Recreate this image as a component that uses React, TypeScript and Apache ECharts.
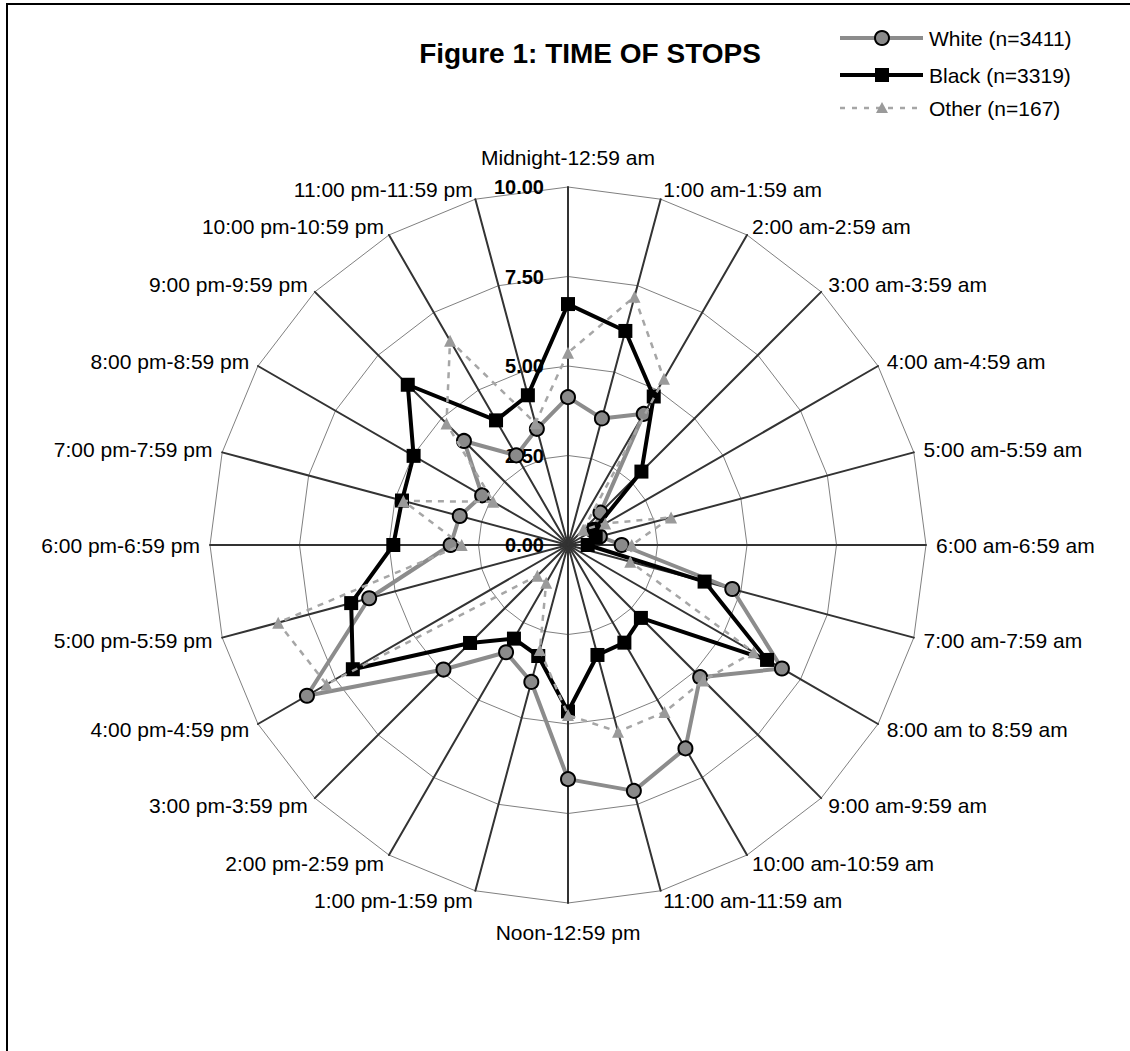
import React, { useEffect, useRef } from "react";
import * as echarts from "echarts";

const FONT = "'Liberation Sans', Arial, Helvetica, sans-serif";

const chartTitle = "Figure 1: TIME OF STOPS";

const hourLabels: string[] = [
  "Midnight-12:59 am",
  "1:00 am-1:59 am",
  "2:00 am-2:59 am",
  "3:00 am-3:59 am",
  "4:00 am-4:59 am",
  "5:00 am-5:59 am",
  "6:00 am-6:59 am",
  "7:00 am-7:59 am",
  "8:00 am to 8:59 am",
  "9:00 am-9:59 am",
  "10:00 am-10:59 am",
  "11:00 am-11:59 am",
  "Noon-12:59 pm",
  "1:00 pm-1:59 pm",
  "2:00 pm-2:59 pm",
  "3:00 pm-3:59 pm",
  "4:00 pm-4:59 pm",
  "5:00 pm-5:59 pm",
  "6:00 pm-6:59 pm",
  "7:00 pm-7:59 pm",
  "8:00 pm-8:59 pm",
  "9:00 pm-9:59 pm",
  "10:00 pm-10:59 pm",
  "11:00 pm-11:59 pm",
];

const seriesNames: string[] = ["White (n=3411)", "Black (n=3319)", "Other (n=167)"];

const whiteValues: number[] = [
  4.13, 3.66, 4.23, 1.28, 0.85, 0.92, 1.5, 4.75, 6.9, 5.22, 6.56, 7.11,
  6.54, 3.96, 3.46, 4.92, 8.42, 5.75, 3.28, 3.13, 2.77, 4.11, 2.89, 3.36,
];

const blackValues: number[] = [
  6.73, 6.19, 4.79, 2.9, 0.85, 0.8, 0.55, 3.95, 6.42, 2.88, 3.15, 3.18,
  4.65, 3.21, 3.02, 3.87, 6.94, 6.27, 4.88, 4.8, 4.98, 6.33, 4.02, 4.33,
];

const otherValues: number[] = [
  5.37, 7.18, 5.36, 0.6, 1.2, 2.98, 1.78, 1.8, 5.99, 5.35, 5.39, 5.4,
  4.75, 3.04, 1.22, 1.21, 7.79, 8.38, 2.97, 4.76, 2.41, 4.8, 6.59, 3.52,
];

const axisMin = 0;
const axisMax = 10;
const axisSplits = 4; // ticks 0.00, 2.50, 5.00, 7.50, 10.00

// ECharts radar lays indicators out counter-clockwise; reorder so that they run clockwise.
function clockwise<T>(arr: T[]): T[] {
  const n = arr.length;
  return arr.map((_, i) => arr[i === 0 ? 0 : n - i]);
}

const App: React.FC = () => {
  const ref = useRef<HTMLDivElement>(null);

  useEffect(() => {
    if (!ref.current) return;
    const chart = echarts.init(ref.current, undefined, { renderer: "svg" });

    const topName = hourLabels[0];
    const bottomName = hourLabels[12];

    const indicators = clockwise(hourLabels).map((name, i) =>
      i === 0
        ? {
            name,
            min: axisMin,
            max: axisMax,
            axisLabel: {
              show: true,
              margin: 24,
              color: "#000",
              fontWeight: "bold",
              fontSize: 20,
              fontFamily: FONT,
              formatter: (v: any) => Number(v).toFixed(2),
            },
          }
        : { name, min: axisMin, max: axisMax }
    );

    const legendY = [38, 75, 108];
    const lx0 = 840;
    const lx1 = 923;
    const mx = 882;
    const tx = 929;

    const option: any = {
      animation: false,
      backgroundColor: "#fff",
      textStyle: { fontFamily: FONT },
      graphic: [
        {
          type: "rect",
          shape: { x: 7, y: 4, width: 1200, height: 1200 },
          style: { fill: "none", stroke: "#000", lineWidth: 2 },
          silent: true,
        },
        {
          type: "text",
          x: 590,
          y: 53,
          style: {
            text: chartTitle,
            font: `bold 28px ${FONT}`,
            fill: "#000",
            textAlign: "center",
            textVerticalAlign: "middle",
          },
        },
        // legend: White
        {
          type: "line",
          shape: { x1: lx0, y1: legendY[0], x2: lx1, y2: legendY[0] },
          style: { stroke: "#8c8c8c", lineWidth: 4 },
        },
        {
          type: "circle",
          shape: { cx: mx, cy: legendY[0], r: 7 },
          style: { fill: "#8a8a8a", stroke: "#000", lineWidth: 2 },
        },
        {
          type: "text",
          x: tx,
          y: legendY[0],
          style: { text: seriesNames[0], font: `21px ${FONT}`, fill: "#000", textVerticalAlign: "middle" },
        },
        // legend: Black
        {
          type: "line",
          shape: { x1: lx0, y1: legendY[1], x2: lx1, y2: legendY[1] },
          style: { stroke: "#000", lineWidth: 4 },
        },
        {
          type: "rect",
          shape: { x: mx - 7, y: legendY[1] - 7, width: 14, height: 14 },
          style: { fill: "#000" },
        },
        {
          type: "text",
          x: tx,
          y: legendY[1],
          style: { text: seriesNames[1], font: `21px ${FONT}`, fill: "#000", textVerticalAlign: "middle" },
        },
        // legend: Other
        {
          type: "line",
          shape: { x1: lx0, y1: legendY[2], x2: lx1, y2: legendY[2] },
          style: { stroke: "#a6a6a6", lineWidth: 2.5, lineDash: [5, 7] },
        },
        {
          type: "polygon",
          shape: { points: [[mx, legendY[2] - 6], [mx + 6, legendY[2] + 5], [mx - 6, legendY[2] + 5]] },
          style: { fill: "#9a9a9a" },
        },
        {
          type: "text",
          x: tx,
          y: legendY[2],
          style: { text: seriesNames[2], font: `21px ${FONT}`, fill: "#000", textVerticalAlign: "middle" },
        },
      ],
      radar: {
        center: [568, 545],
        radius: 358,
        startAngle: 90,
        shape: "polygon",
        splitNumber: axisSplits,
        nameGap: 10,
        axisName: {
          color: "#000",
          fontSize: 21,
          fontFamily: FONT,
          formatter: (name: string) =>
            name === topName ? `{top|${name}}` : name === bottomName ? `{bottom|${name}}` : name,
          rich: {
            top: { fontSize: 21, fontFamily: FONT, color: "#000", padding: [0, 0, 9, 0] },
            bottom: { fontSize: 21, fontFamily: FONT, color: "#000", padding: [9, 0, 0, 0] },
          },
        },
        axisLine: { lineStyle: { color: "#333", width: 2 } },
        axisTick: { show: false },
        axisLabel: { show: false },
        splitLine: { lineStyle: { color: "#808080", width: 1 } },
        splitArea: { show: false },
        indicator: indicators,
      },
      series: [
        {
          type: "radar",
          name: seriesNames[0],
          z: 2,
          symbol: "circle",
          symbolSize: 14,
          itemStyle: { color: "#8a8a8a", borderColor: "#000", borderWidth: 2 },
          lineStyle: { color: "#8c8c8c", width: 4 },
          data: [{ name: seriesNames[0], value: clockwise(whiteValues) }],
        },
        {
          type: "radar",
          name: seriesNames[1],
          z: 3,
          symbol: "rect",
          symbolSize: 14,
          itemStyle: { color: "#000" },
          lineStyle: { color: "#000", width: 4 },
          data: [{ name: seriesNames[1], value: clockwise(blackValues) }],
        },
        {
          type: "radar",
          name: seriesNames[2],
          z: 4,
          symbol: "triangle",
          symbolSize: 12,
          itemStyle: { color: "#9a9a9a" },
          lineStyle: { color: "#a6a6a6", width: 2.5, type: [6, 6] },
          data: [{ name: seriesNames[2], value: clockwise(otherValues) }],
        },
      ],
    };

    chart.setOption(option);
    return () => chart.dispose();
  }, []);

  return (
    <div
      ref={ref}
      style={{ position: "absolute", left: 0, top: 0, width: 1130, height: 1051, background: "#fff" }}
    />
  );
};

export default App;
